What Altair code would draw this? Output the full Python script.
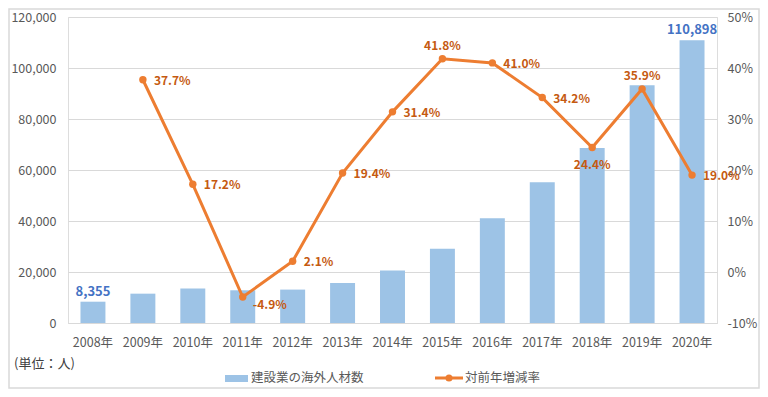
import altair as alt
import pandas as pd

years = ["2008年", "2009年", "2010年", "2011年", "2012年", "2013年", "2014年",
         "2015年", "2016年", "2017年", "2018年", "2019年", "2020年"]
workers = [8355, 11505, 13490, 12830, 13102, 15647, 20560,
           29157, 41104, 55168, 68604, 93214, 110898]
rates = [None, 37.7, 17.2, -4.9, 2.1, 19.4, 31.4, 41.8, 41.0, 34.2, 24.4, 35.9, 19.0]
rate_side = [None, "right", "right", "rightlow", "right", "right", "right",
             "above", "right", "right", "below", "above", "right"]
bar_label_years = ["2008年", "2020年"]

FONT = "Noto Sans CJK JP"
BAR_C = "#9DC3E6"
LINE_C = "#ED7D31"
LAB_C = "#C55A11"
BLUE_T = "#4472C4"
GRAY_T = "#595959"

df = pd.DataFrame({"year": years, "workers": workers})
df["blabel"] = [f"{v:,}" if y in bar_label_years else "" for y, v in zip(years, workers)]
rdf = pd.DataFrame({"year": years, "rate": rates, "side": rate_side}).dropna()
rdf["rlabel"] = [f"{v:.1f}%" for v in rdf["rate"]]

xenc = alt.X("year:N", sort=years, title=None,
             scale=alt.Scale(paddingInner=0.5, paddingOuter=0.25),
             axis=alt.Axis(labelAngle=0, labelColor=GRAY_T, labelFontSize=12.5, labelFont=FONT,
                           ticks=False, domain=True, domainColor="#D9D9D9", labelPadding=13))

ybar = alt.Y("workers:Q", title=None,
             scale=alt.Scale(domain=[0, 120000], nice=False),
             axis=alt.Axis(orient="left", values=list(range(0, 120001, 20000)), format=",.0f",
                           labelColor=GRAY_T, labelFontSize=12.5, labelFont=FONT, ticks=False,
                           domain=False, gridColor="#D9D9D9", labelPadding=12))

base = alt.Chart(df)
bars = base.mark_bar(color=BAR_C).encode(x=xenc, y=ybar)
btext = base.mark_text(color=BLUE_T, fontWeight="bold", fontSize=13, font=FONT, dy=-10,
                       baseline="middle").encode(x=xenc, y="workers:Q", text="blabel:N")

one = pd.DataFrame({"a": [0]})
frame = alt.Chart(one).mark_rect(filled=False, color="#D9D9D9", strokeWidth=1.5, clip=False).encode(
    x=alt.value(-59), x2=alt.value(691), y=alt.value(-8), y2=alt.value(371))
unit = alt.Chart(one).mark_text(text="(単位：人)", font=FONT, fontSize=13, color="#404040",
                                align="left", baseline="middle").encode(
    x=alt.value(-54), y=alt.value(347))
leg_sq = alt.Chart(one).mark_rect(color=BAR_C).encode(
    x=alt.value(157), x2=alt.value(180), y=alt.value(358), y2=alt.value(365))
leg_t1 = alt.Chart(one).mark_text(text="建設業の海外人材数", font=FONT, fontSize=12.5, color=GRAY_T,
                                  align="left", baseline="middle").encode(
    x=alt.value(183), y=alt.value(361))
leg_ln = alt.Chart(one).mark_rule(color=LINE_C, strokeWidth=3).encode(
    x=alt.value(367), x2=alt.value(395), y=alt.value(361))
leg_pt = alt.Chart(one).mark_point(color=LINE_C, filled=True, size=50, opacity=1).encode(
    x=alt.value(381), y=alt.value(361))
leg_t2 = alt.Chart(one).mark_text(text="対前年増減率", font=FONT, fontSize=12.5, color=GRAY_T,
                                  align="left", baseline="middle").encode(
    x=alt.value(397), y=alt.value(361))

left_layer = alt.layer(bars, btext, frame, unit, leg_sq, leg_t1, leg_ln, leg_pt, leg_t2)

yrate = alt.Y("rate:Q", title=None,
              scale=alt.Scale(domain=[-10, 50], nice=False),
              axis=alt.Axis(orient="right", values=list(range(-10, 51, 10)),
                            labelExpr="datum.value + '%'", labelColor=GRAY_T, labelFontSize=12.5,
                            labelFont=FONT, ticks=False, domain=False, grid=False, labelPadding=10))

rbase = alt.Chart(rdf)
line = rbase.mark_line(color=LINE_C, strokeWidth=3).encode(x=xenc, y=yrate)
pts = rbase.mark_point(color=LINE_C, filled=True, size=55, opacity=1).encode(x=xenc, y="rate:Q")

def lab(side, **kw):
    return rbase.transform_filter(alt.datum.side == side).mark_text(
        color=LAB_C, fontWeight="bold", fontSize=12, font=FONT, baseline="middle", **kw
    ).encode(x=xenc, y="rate:Q", text="rlabel:N")

lab_r = lab("right", align="left", dx=11, dy=1)
lab_rl = lab("rightlow", align="left", dx=10, dy=8)
lab_a = lab("above", align="center", dy=-13)
lab_b = lab("below", align="center", dy=17)

right_layer = alt.layer(line, pts, lab_r, lab_rl, lab_a, lab_b)

chart = alt.layer(left_layer, right_layer).resolve_scale(y="independent").properties(
    width=649, height=306,
    autosize=alt.AutoSizeParams(type="none"),
    padding={"left": 60, "top": 9, "right": 43, "bottom": 66},
).configure_view(stroke=None).configure(background="white")

chart.save("out.html", embed_options={"renderer": "svg", "actions": False})
